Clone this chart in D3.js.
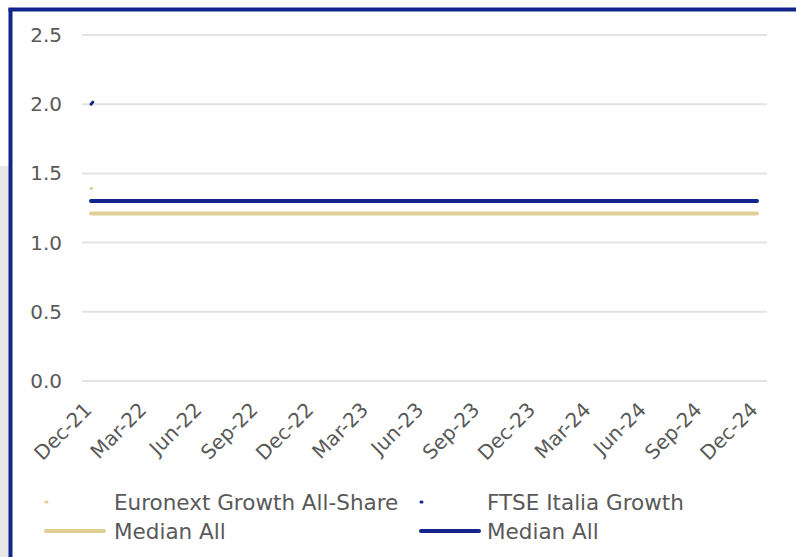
<!DOCTYPE html>
<html>
<head>
<meta charset="utf-8">
<script src="https://cdn.jsdelivr.net/npm/d3@7"></script>
<style>
  body { margin: 0; background: #fff; }
  svg { display: block; font-family: "DejaVu Sans", Verdana, sans-serif; }
</style>
</head>
<body>
<div id="chart"></div>
<script>
// Data
var tickDates = ["2021-12-31", "2022-03-31", "2022-06-30", "2022-09-30", "2022-12-31", "2023-03-31",
                 "2023-06-30", "2023-09-30", "2023-12-31", "2024-03-31", "2024-06-30", "2024-09-30", "2024-12-31"];
var yTicks = [0, 0.5, 1.0, 1.5, 2.0, 2.5];
var euronextDates = ["2021-12-31", "2022-01-01"];
var euronextValues = [1.39, 1.39];
var ftseDates = ["2021-12-31", "2022-01-03"];
var ftseValues = [2.00, 2.015];
var medianEuronext = 1.21;
var medianFtse = 1.30;
var legendLabels = ["Euronext Growth All-Share", "FTSE Italia Growth", "Median All", "Median All"];

var W = 796, H = 557;
var parse = d3.timeParse("%Y-%m-%d");
var blue = "#13248c", tan = "#dfcf97", textColor = "#595959";

var svg = d3.select("#chart").append("svg")
    .attr("width", W)
    .attr("height", H);

// grey strip on the left and the blue frame
svg.append("rect").attr("x", 0).attr("y", 166).attr("width", 9).attr("height", H - 166).attr("fill", "#e8e8e8");
svg.append("line").attr("x1", 10.5).attr("y1", 8).attr("x2", 10.5).attr("y2", H)
    .style("stroke", blue).style("stroke-width", 4);
svg.append("line").attr("x1", 8.5).attr("y1", 9.5).attr("x2", W).attr("y2", 9.5)
    .style("stroke", blue).style("stroke-width", 4);

var x = d3.scaleTime()
    .domain([parse(tickDates[0]), parse(tickDates[tickDates.length - 1])])
    .range([91, 757]);

var y = d3.scaleLinear()
    .domain([0, 2.5])
    .range([381, 35]);

// gridlines
svg.append("g")
    .selectAll("line")
    .data(yTicks)
    .enter().append("line")
    .attr("x1", 82)
    .attr("x2", 767)
    .attr("y1", function (d) { return y(d); })
    .attr("y2", function (d) { return y(d); })
    .style("stroke", "#e3e3e3")
    .style("stroke-width", 2);

// y labels
svg.append("g")
    .selectAll("text")
    .data(yTicks)
    .enter().append("text")
    .attr("x", 62)
    .attr("y", function (d) { return y(d); })
    .attr("dy", "0.35em")
    .attr("text-anchor", "end")
    .style("font-size", "20px")
    .style("fill", textColor)
    .text(function (d) { return d3.format(".1f")(d); });

// x labels, rotated
svg.append("g")
    .selectAll("text")
    .data(tickDates)
    .enter().append("text")
    .attr("text-anchor", "end")
    .attr("transform", function (d) { return "translate(" + (x(parse(d)) + 2) + ",411) rotate(-45)"; })
    .style("font-size", "20px")
    .style("fill", textColor)
    .text(function (d) { return d3.timeFormat("%b-%y")(parse(d)); });

var line = d3.line()
    .x(function (d) { return x(d.date); })
    .y(function (d) { return y(d.value); });

function pairs(dates, values) {
    return dates.map(function (d, i) { return { date: parse(d), value: values[i] }; });
}

// median lines
svg.append("path")
    .datum(pairs([tickDates[0], tickDates[tickDates.length - 1]], [medianEuronext, medianEuronext]))
    .attr("d", line)
    .style("fill", "none").style("stroke", tan).style("stroke-width", 4).style("stroke-linecap", "round");
svg.append("path")
    .datum(pairs([tickDates[0], tickDates[tickDates.length - 1]], [medianFtse, medianFtse]))
    .attr("d", line)
    .style("fill", "none").style("stroke", blue).style("stroke-width", 4).style("stroke-linecap", "round");

// index series (only the first days survive in the picture)
svg.append("path")
    .datum(pairs(euronextDates, euronextValues))
    .attr("d", line)
    .style("fill", "none").style("stroke", tan).style("stroke-width", 3).style("stroke-linecap", "round");
svg.append("path")
    .datum(pairs(ftseDates, ftseValues))
    .attr("d", line)
    .style("fill", "none").style("stroke", blue).style("stroke-width", 3).style("stroke-linecap", "round");

// legend
var legendItems = [
    { label: legendLabels[0], color: tan, x: 46, y: 502, len: 1, w: 3 },
    { label: legendLabels[1], color: blue, x: 421, y: 502, len: 1, w: 3 },
    { label: legendLabels[2], color: tan, x: 46, y: 531, len: 58, w: 4 },
    { label: legendLabels[3], color: blue, x: 421, y: 531, len: 58, w: 4 }
];
var legend = svg.append("g").selectAll("g")
    .data(legendItems)
    .enter().append("g");

legend.append("line")
    .attr("x1", function (d) { return d.x; })
    .attr("x2", function (d) { return d.x + d.len; })
    .attr("y1", function (d) { return d.y; })
    .attr("y2", function (d) { return d.y; })
    .style("stroke", function (d) { return d.color; })
    .style("stroke-width", function (d) { return d.w; })
    .style("stroke-linecap", "round");

legend.append("text")
    .attr("x", function (d) { return d.x + (d.x < 100 ? 68 : 66); })
    .attr("y", function (d) { return d.y; })
    .attr("dy", "0.35em")
    .style("font-size", "21.5px")
    .style("fill", textColor)
    .text(function (d) { return d.label; });
</script>
</body>
</html>
